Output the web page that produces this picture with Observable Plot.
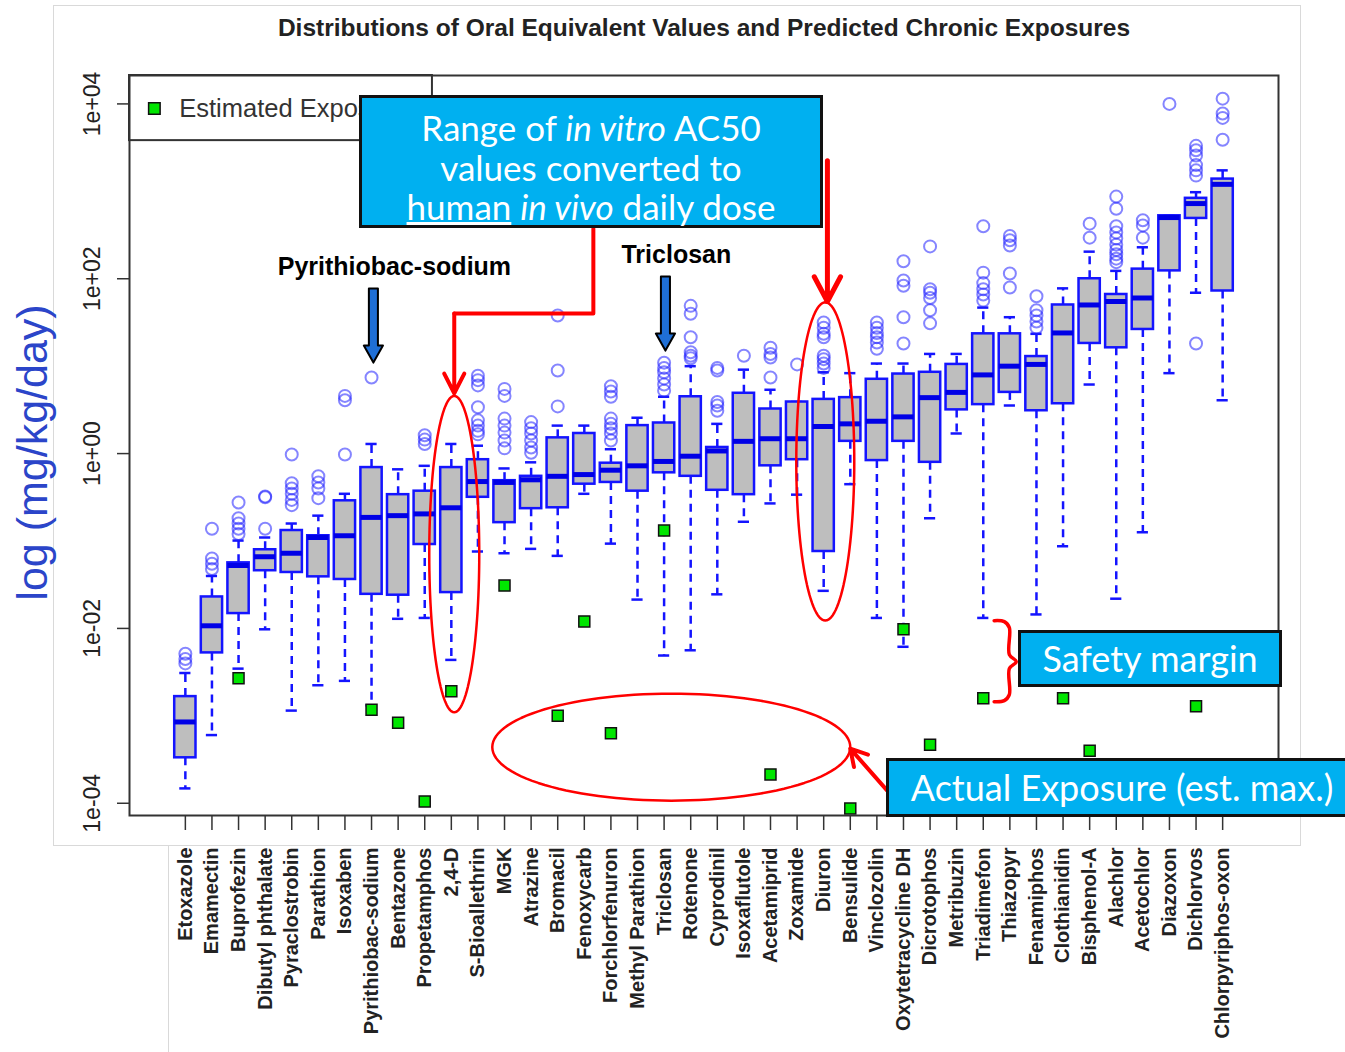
<!DOCTYPE html>
<html><head><meta charset="utf-8">
<script src="https://cdn.jsdelivr.net/npm/d3@7"></script>
<script src="https://cdn.jsdelivr.net/npm/@observablehq/plot@0.6"></script>
<style>
body{margin:0;background:#fff;}
#wrap{position:relative;width:1345px;height:1052px;overflow:hidden;font-family:"Liberation Sans",Arial,sans-serif;}
#wrap svg{position:absolute;left:0;top:0;}
.callout{position:absolute;box-sizing:border-box;background:#00B0F0;border:3px solid #111;color:#fff;font-family:Lato,"Open Sans",sans-serif;text-align:center;white-space:nowrap;}
.gline{position:absolute;box-sizing:border-box;border-color:#d9d9d9;border-style:solid;border-width:0;}
</style></head><body><div id="wrap"></div>
<script>
// ---- data (values as log10 of mg/kg/day) ----
const chemicals = ["Etoxazole","Emamectin","Buprofezin","Dibutyl phthalate","Pyraclostrobin","Parathion","Isoxaben","Pyrithiobac-sodium","Bentazone","Propetamphos","2,4-D","S-Bioallethrin","MGK","Atrazine","Bromacil","Fenoxycarb","Forchlorfenuron","Methyl Parathion","Triclosan","Rotenone","Cyprodinil","Isoxaflutole","Acetamiprid","Zoxamide","Diuron","Bensulide","Vinclozolin","Oxytetracycline DH","Dicrotophos","Metribuzin","Triadimefon","Thiazopyr","Fenamiphos","Clothianidin","Bisphenol-A","Alachlor","Acetochlor","Diazoxon","Dichlorvos","Chlorpyriphos-oxon"];
const lowerWhisker = [-3.83,-3.22,-2.46,-2.01,-2.94,-2.65,-2.60,-2.88,-1.89,-1.88,-2.36,-1.12,-1.14,-1.09,-1.17,-0.46,-1.03,-1.67,-2.31,-2.25,-1.61,-0.78,-0.57,-0.47,-1.57,-0.35,-1.88,-2.21,-0.74,0.23,-1.88,0.55,-1.84,-1.06,0.79,-1.66,-0.90,0.92,1.84,0.61];
const lowerQuartile = [-3.48,-2.28,-1.83,-1.34,-1.36,-1.41,-1.44,-1.61,-1.62,-1.04,-1.59,-0.50,-0.79,-0.63,-0.62,-0.35,-0.33,-0.43,-0.22,-0.26,-0.42,-0.47,-0.14,-0.07,-1.12,0.14,-0.08,0.14,-0.10,0.50,0.56,0.70,0.49,0.57,1.26,1.21,1.42,2.09,2.69,1.86];
const medianValue = [-3.07,-1.97,-1.28,-1.18,-1.14,-0.96,-0.94,-0.73,-0.71,-0.69,-0.62,-0.32,-0.33,-0.30,-0.26,-0.24,-0.19,-0.14,-0.09,-0.03,0.03,0.14,0.17,0.17,0.31,0.34,0.37,0.42,0.64,0.70,0.90,1.00,1.02,1.38,1.70,1.74,1.78,2.70,2.86,3.08];
const upperQuartile = [-2.78,-1.64,-1.25,-1.10,-0.88,-0.94,-0.54,-0.16,-0.47,-0.43,-0.16,-0.07,-0.31,-0.26,0.18,0.23,-0.11,0.32,0.35,0.65,0.07,0.69,0.51,0.59,0.62,0.64,0.85,0.91,0.93,1.02,1.37,1.37,1.11,1.70,2.00,1.82,2.11,2.72,2.92,3.14];
const upperWhisker = [-2.51,-1.40,-0.995,-0.96,-0.80,-0.71,-0.46,0.11,-0.18,-0.14,0.11,0.09,-0.17,-0.10,0.32,0.32,0.05,0.41,0.65,1.00,0.34,0.96,0.73,0.59,0.93,0.92,1.03,1.03,1.14,1.14,1.67,1.56,1.37,1.89,2.31,2.09,2.36,2.72,2.99,3.24];
const outliers = [
  [-2.29,-2.35,-2.40],
  [-0.86,-1.20,-1.26,-1.32],
  [-0.56,-0.74,-0.80,-0.86,-0.92],
  [-0.49,-0.50,-0.86],
  [-0.01,-0.34,-0.40,-0.46,-0.53,-0.59],
  [-0.26,-0.33,-0.40,-0.51],
  [0.66,0.61,-0.01],
  [0.87],
  [],
  [0.21,0.16,0.11],
  [],
  [0.89,0.84,0.78,0.53,0.38,0.32,0.26,0.22],
  [0.74,0.66,0.40,0.32,0.24,0.15,0.06],
  [0.36,0.29,0.23,0.15,0.07,0.01],
  [1.58,0.95,0.54],
  [],
  [0.77,0.71,0.65,0.40,0.34,0.29,0.23,0.15],
  [],
  [1.04,0.98,0.93,0.86,0.79,0.72],
  [1.69,1.60,1.33,1.16,1.12,1.09],
  [0.98,0.95,0.59,0.55,0.49],
  [1.12],
  [1.21,1.14,1.10,0.87],
  [1.02],
  [1.50,1.44,1.37,1.33,1.12,1.08,1.03,0.98],
  [],
  [1.50,1.44,1.38,1.33,1.27,1.20],
  [2.20,1.98,1.92,1.56,1.26],
  [2.37,1.88,1.84,1.78,1.64,1.49],
  [],
  [2.60,2.07,1.95,1.88,1.82,1.75],
  [2.49,2.44,2.38,2.06,1.90],
  [1.80,1.64,1.58,1.51,1.44],
  [],
  [2.63,2.47],
  [2.94,2.80,2.60,2.53,2.46,2.39,2.33,2.28,2.23,2.19],
  [2.67,2.61,2.47],
  [4.00],
  [3.52,3.47,3.41,3.30,3.24,3.18,1.26],
  [4.06,3.89,3.84,3.59]
];
const estimatedExposure = [null,null,-2.57,null,null,null,null,-2.93,-3.08,-3.98,-2.72,null,-1.51,null,-3.00,-1.92,-3.20,null,-0.88,null,null,null,-3.67,null,null,-4.06,null,-2.01,-3.33,null,-2.80,null,null,-2.80,-3.40,null,null,null,-2.89,null];
const yTickValues = [1e-4, 1e-2, 1, 1e2, 1e4];
const titleText = "Distributions of Oral Equivalent Values and Predicted Chronic Exposures";
const yLabel = "log (mg/kg/day)";
const legendLabel = "Estimated Exposure";

// ---- tables ----
const P = v => 10 ** v;
const rows = chemicals.map((name, k) => ({name, i: k + 1, lw: P(lowerWhisker[k]), q1: P(lowerQuartile[k]), med: P(medianValue[k]), q3: P(upperQuartile[k]), uw: P(upperWhisker[k])}));
const outRows = chemicals.flatMap((name, k) => outliers[k].map(v => ({i: k + 1, v: P(v)})));
const expRows = chemicals.map((name, k) => ({i: k + 1, v: estimatedExposure[k]})).filter(d => d.v != null).map(d => ({i: d.i, v: P(d.v)}));
const idx = n => chemicals.indexOf(n) + 1;
const fmt = v => { const e = Math.round(Math.log10(v)); return "1e" + (e < 0 ? "-" : "+") + String(Math.abs(e)).padStart(2, "0"); };

// ---- annotation geometry (data coordinates: x = category index, y = log10) ----
function ellipse(cx, cyLog, a, bLog) {
  return d3.range(0, 361, 3).map(t => ({x: cx + a * Math.cos(t * Math.PI / 180), y: P(cyLog + bLog * Math.sin(t * Math.PI / 180))}));
}
const ell24D = ellipse(idx("2,4-D") + 0.11, -1.15, 0.94, 1.81);
const ellDiuron = ellipse(idx("Diuron") + 0.06, -0.09, 1.09, 1.82);
const ellLow = ellipse(19.27, -3.358, 6.73, 0.612);
const conn1 = [{x: 16.34, y: P(2.574)}, {x: 16.34, y: P(1.602)}, {x: 11.11, y: P(1.602)}];
const tri = idx("Triadimefon");
const brace = [[0.41,-1.911],[0.79,-1.922],[0.98,-1.991],[0.98,-2.30],[1.24,-2.38],[0.98,-2.46],[0.98,-2.757],[0.79,-2.826],[0.41,-2.838]].map(([dx, l]) => ({x: tri + dx, y: P(l)}));
function blockArrow(cx, top, head, tip) {
  const s = 0.17, h = 0.36;
  return [[cx - s, top], [cx + s, top], [cx + s, head], [cx + h, head], [cx, tip], [cx - h, head], [cx - s, head], [cx - s, top]].map(([x, l]) => ({x, y: P(l)}));
}
const arrowPyr = blockArrow(idx("Pyrithiobac-sodium") + 0.07, 1.888, 1.236, 1.041);
const arrowTri = blockArrow(idx("Triclosan") + 0.05, 2.025, 1.373, 1.178);

const blue = "#1414ff";
const chart = Plot.plot({
  width: 1345, height: 1052,
  marginLeft: 129, marginRight: 67, marginTop: 75, marginBottom: 237,
  x: {type: "linear", domain: [-1.1, 42.1]},
  y: {type: "log", domain: [P(-4.14), P(4.325)]},
  style: {fontFamily: "'Liberation Sans', Arial, sans-serif", background: "transparent", color: "#222"},
  marks: [
    // legend box
    Plot.rect([0], {x1: -1.1, x2: 10.29, y1: P(3.58), y2: P(4.325), fill: "white", stroke: "#333", strokeWidth: 2}),
    Plot.dot([0], {x: -0.165, y: P(3.947), symbol: "square", r: 6.5, fill: "#00e600", stroke: "#111", strokeWidth: 1.5}),
    Plot.text([legendLabel], {x: 0.77, y: P(3.947), text: d => d, textAnchor: "start", fontSize: 25.5, fill: "#333"}),
    // whiskers
    Plot.ruleX(rows, {x: "i", y1: "q3", y2: "uw", stroke: blue, strokeWidth: 2.5, strokeDasharray: "8,6"}),
    Plot.ruleX(rows, {x: "i", y1: "q1", y2: "lw", stroke: blue, strokeWidth: 2.5, strokeDasharray: "8,6"}),
    Plot.ruleY(rows, {y: "uw", x1: d => d.i - 0.21, x2: d => d.i + 0.21, stroke: blue, strokeWidth: 2.5}),
    Plot.ruleY(rows, {y: "lw", x1: d => d.i - 0.21, x2: d => d.i + 0.21, stroke: blue, strokeWidth: 2.5}),
    // boxes
    Plot.rect(rows, {x1: d => d.i - 0.4, x2: d => d.i + 0.4, y1: "q1", y2: "q3", fill: "#bebebe", stroke: blue, strokeWidth: 2.5}),
    Plot.ruleY(rows, {y: "med", x1: d => d.i - 0.4, x2: d => d.i + 0.4, stroke: "#0000e6", strokeWidth: 5}),
    // outliers
    Plot.dot(outRows, {x: "i", y: "v", r: 6, stroke: "#2020ff", strokeOpacity: 0.55, strokeWidth: 2, fill: "none"}),
    // estimated exposures
    Plot.dot(expRows, {x: "i", y: "v", symbol: "square", r: 6.2, fill: "#00e600", stroke: "#111", strokeWidth: 1.5}),
    // axes + frame
    Plot.frame({stroke: "#333", strokeWidth: 2}),
    Plot.axisY({ticks: yTickValues, tickFormat: fmt, tickSize: 12, tickRotate: -90, tickPadding: 18, fontSize: 23, stroke: "#333", strokeWidth: 1.5, label: null}),
    Plot.axisX({ticks: d3.range(1, 41), tickFormat: i => chemicals[i - 1], tickSize: 15, tickRotate: -90, tickPadding: 17, fontSize: 20, fontWeight: "bold", stroke: "#333", strokeWidth: 1.5, label: null}),
    Plot.text([titleText], {frameAnchor: "top", dy: -47, text: d => d, lineAnchor: "middle", textAnchor: "middle", fontSize: 24.5, fontWeight: "bold", fill: "#222"}),
    Plot.text([yLabel], {frameAnchor: "left", dx: -96, dy: 7, text: d => d, rotate: -90, textAnchor: "middle", lineAnchor: "middle", fontSize: 43, fill: "#2b45c9"}),
    // annotations
    Plot.line(ell24D, {x: "x", y: "y", stroke: "red", strokeWidth: 2.5}),
    Plot.line(ellDiuron, {x: "x", y: "y", stroke: "red", strokeWidth: 2.5}),
    Plot.line(ellLow, {x: "x", y: "y", stroke: "red", strokeWidth: 2.5}),
    Plot.line(conn1, {x: "x", y: "y", stroke: "red", strokeWidth: 4}),
    Plot.arrow([0], {x1: 11.11, y1: P(1.602), x2: 11.11, y2: P(0.69), stroke: "red", strokeWidth: 4, headLength: 8.3, headAngle: 54}),
    Plot.arrow([0], {x1: 25.14, y1: P(3.35), x2: 25.14, y2: P(1.74), stroke: "red", strokeWidth: 5, headLength: 8.4, headAngle: 56}),
    Plot.arrow([0], {x1: 27.39, y1: P(-3.856), x2: 26.0, y2: P(-3.375), stroke: "red", strokeWidth: 4, headLength: 7, headAngle: 60}),
    Plot.line(brace, {x: "x", y: "y", stroke: "red", strokeWidth: 3.5, curve: "catmull-rom"}),
    Plot.line(arrowPyr, {x: "x", y: "y", fill: "#1f6fd6", stroke: "#000", strokeWidth: 2}),
    Plot.line(arrowTri, {x: "x", y: "y", fill: "#1f6fd6", stroke: "#000", strokeWidth: 2}),
    Plot.text(["Pyrithiobac-sodium"], {x: 8.86, y: P(2.13), text: d => d, fontSize: 25, fontWeight: "bold", fill: "#000"}),
    Plot.text(["Triclosan"], {x: 19.46, y: P(2.27), text: d => d, fontSize: 25, fontWeight: "bold", fill: "#000"})
  ]
});

const wrap = document.getElementById("wrap");
// faint border of the pasted chart image
wrap.insertAdjacentHTML("beforeend", '<div class="gline" style="left:53px;top:5px;width:1248px;height:841px;border-width:1px;"></div><div class="gline" style="left:168px;top:845px;width:1px;height:207px;border-left-width:1px;"></div>');
wrap.appendChild(chart);
wrap.insertAdjacentHTML("beforeend", `
<div class="callout" style="left:359px;top:95px;width:464px;height:133px;padding-top:10px;font-size:35px;line-height:39.5px;">
  <div>Range of <i>in vitro</i> AC50</div><div>values converted to</div><div><u>human</u> <i>in vivo</i> daily dose</div>
</div>
<div class="callout" style="left:1018px;top:630px;width:264px;height:57px;font-size:36px;line-height:51px;">Safety margin</div>
<div class="callout" style="left:886px;top:758px;width:472px;height:59px;font-size:36px;line-height:53px;">Actual Exposure (est. max.)</div>
`);
</script></body></html>
